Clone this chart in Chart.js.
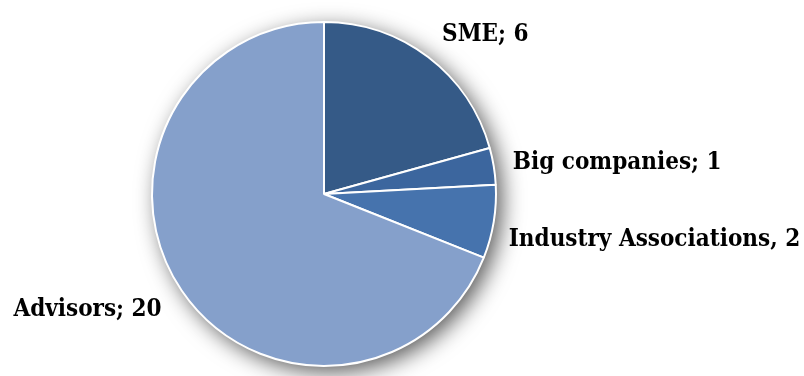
<!DOCTYPE html>
<html>
<head>
<meta charset="utf-8">
<script src="https://cdn.jsdelivr.net/npm/chart.js@4"></script>
<style>
  html, body { margin: 0; padding: 0; background: #fff; }
  #wrap { width: 804px; height: 376px; }
</style>
</head>
<body>
<div id="wrap"><canvas id="grafica"></canvas></div>
<script>
const categorias = ["SME", "Big companies", "Industry Associations", "Advisors"];
const valores = [6, 1, 2, 20];
const separadores = ["; ", "; ", ", ", "; "];
const colores = ["#355A87", "#3C669E", "#4673AD", "#85A0CB"];

// sombra suave detrás del círculo
const sombraPie = {
    id: "sombraPie",
    beforeDatasetsDraw(chart) {
        const arc = chart.getDatasetMeta(0).data[0];
        const ctx = chart.ctx;
        ctx.save();
        ctx.shadowColor = "rgba(0,0,0,0.65)";
        ctx.shadowBlur = 22;
        ctx.shadowOffsetX = 6;
        ctx.shadowOffsetY = 6;
        ctx.fillStyle = "#fff";
        ctx.beginPath();
        ctx.arc(arc.x, arc.y, arc.outerRadius, 0, Math.PI * 2);
        ctx.fill();
        ctx.restore();
    }
};

// etiquetas fuera de cada porción
const etiquetas = {
    id: "etiquetas",
    afterDatasetsDraw(chart, args, opts) {
        const ctx = chart.ctx;
        ctx.save();
        ctx.font = opts.font;
        ctx.fillStyle = "#000";
        ctx.textBaseline = "middle";
        chart.getDatasetMeta(0).data.forEach((arc, i) => {
            const mid = (arc.startAngle + arc.endAngle) / 2;
            const r = arc.outerRadius;
            let x = arc.x + Math.cos(mid) * r + opts.nudge[i][0];
            let y = arc.y + Math.sin(mid) * r + opts.nudge[i][1];
            ctx.textAlign = Math.cos(mid) >= 0 ? "left" : "right";
            ctx.fillText(categorias[i] + separadores[i] + valores[i], x, y);
        });
        ctx.restore();
    }
};

new Chart(document.getElementById("grafica"), {
    type: "pie",
    data: {
        labels: categorias,
        datasets: [{
            data: valores,
            backgroundColor: colores,
            borderColor: "#fff",
            borderWidth: 2
        }]
    },
    options: {
        responsive: true,
        maintainAspectRatio: false,
        animation: false,
        layout: { padding: { top: 21, bottom: 9, left: 0, right: 156 } },
        plugins: {
            legend: { display: false },
            tooltip: { enabled: false },
            etiquetas: {
                font: "bold 24px 'DejaVu Serif Condensed', 'DejaVu Serif', serif",
                nudge: [[14, -22], [19, -3], [15, 18], [-20, 19]]
            }
        }
    },
    plugins: [sombraPie, etiquetas]
});
</script>
</body>
</html>
